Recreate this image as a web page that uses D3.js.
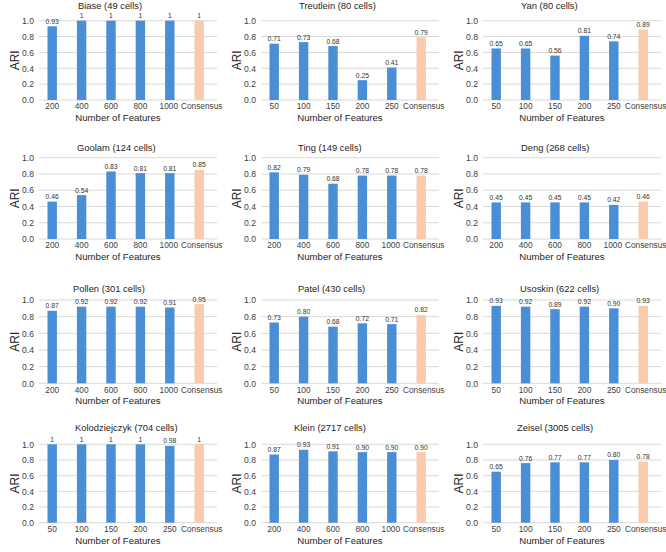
<!DOCTYPE html>
<html><head><meta charset="utf-8">
<script src="https://cdn.jsdelivr.net/npm/d3@7"></script>
<style>body{margin:0;background:#fff}svg{display:block}text{font-family:"Liberation Sans",Arial,sans-serif}</style>
</head><body><svg id="c" width="666" height="552"></svg>
<script>
// ---- data ----
const titles = ["Biase (49 cells)","Treutlein (80 cells)","Yan (80 cells)",
  "Goolam (124 cells)","Ting (149 cells)","Deng (268 cells)",
  "Pollen (301 cells)","Patel (430 cells)","Usoskin (622 cells)",
  "Kolodziejczyk (704 cells)","Klein (2717 cells)","Zeisel (3005 cells)"];
const featuresLarge = ["200","400","600","800","1000"];
const featuresSmall = ["50","100","150","200","250"];
const panelFeatures = [featuresLarge,featuresSmall,featuresSmall,
  featuresLarge,featuresLarge,featuresLarge,
  featuresLarge,featuresSmall,featuresSmall,
  featuresSmall,featuresLarge,featuresSmall];
const biase = [0.93,1,1,1,1];
const treutlein = [0.71,0.73,0.68,0.25,0.41];
const yan = [0.65,0.65,0.56,0.81,0.74];
const goolam = [0.46,0.54,0.83,0.81,0.81];
const ting = [0.82,0.79,0.68,0.78,0.78];
const deng = [0.45,0.45,0.45,0.45,0.42];
const pollen = [0.87,0.92,0.92,0.92,0.91];
const patel = [0.73,0.80,0.68,0.72,0.71];
const usoskin = [0.93,0.92,0.89,0.92,0.90];
const kolodziejczyk = [1,1,1,1,0.98];
const klein = [0.87,0.93,0.91,0.90,0.90];
const zeisel = [0.65,0.76,0.77,0.77,0.80];
const panelValues = [biase,treutlein,yan,goolam,ting,deng,pollen,patel,usoskin,kolodziejczyk,klein,zeisel];
const consensus = [1,0.79,0.89,0.85,0.78,0.46,0.95,0.82,0.93,1,0.90,0.78];
const consensusLabel = "Consensus";
const yTicks = [0,0.2,0.4,0.6,0.8,1.0];
const xTitle = "Number of Features";
const yTitle = "ARI";

// ---- layout ----
const colX = [0,222,444];
const rowTop = [20.7,157.7,300,444.3];     // y of 1.0
const rowBottom = [100,239,383.3,522.7];  // y of 0.0
const titleY = [6,148,289,428];
const titleStart = [78,77,77,77,76,77,73,76,76,75,72,73];
const blue = "#4a8ed6", peach = "#f8cbad", grid = "#d9d9d9";
const FONT = "Liberation Sans, Arial, sans-serif";

const svg = d3.select("#c");
svg.append("rect").attr("width",666).attr("height",552).attr("fill","#fff");

panelValues.forEach((vals,i)=>{
  const r = Math.floor(i/3), c = i%3;
  const g = svg.append("g").attr("transform",`translate(${colX[c]},0)`);
  const cats = panelFeatures[i].concat([consensusLabel]);
  const data = vals.map((v,k)=>({cat:panelFeatures[i][k],v,cons:false}))
    .concat([{cat:consensusLabel,v:consensus[i],cons:true}]);
  const x = d3.scaleBand().domain(cats).range([37.5,213.9]).paddingInner(0.68).paddingOuter(0.34);
  const y = d3.scaleLinear().domain([0,1]).range([rowBottom[r],rowTop[r]]);

  g.selectAll("line.grid").data(yTicks).join("line")
    .attr("x1",39).attr("x2",217)
    .attr("y1",d=>y(d)).attr("y2",d=>y(d))
    .attr("stroke",grid).attr("stroke-width",1);

  const ya = g.append("g").attr("transform","translate(34,0)")
    .call(d3.axisLeft(y).tickValues(yTicks).tickFormat(d3.format(".1f")).tickSize(0).tickPadding(0));
  ya.select(".domain").remove();
  ya.selectAll("text").attr("font-size","8.6px").attr("fill","#404040").attr("font-family",FONT);

  const xa = g.append("g").attr("transform",`translate(0,${rowBottom[r]})`)
    .call(d3.axisBottom(x).tickSize(0).tickPadding(3.5));
  xa.select(".domain").remove();
  xa.selectAll("text").attr("font-size","8.3px").attr("fill","#404040").attr("font-family",FONT)
    .attr("dx",d=>d===consensusLabel?"2.5":(d==="1000"?"-1":"0"));

  g.selectAll("rect.bar").data(data).join("rect")
    .attr("x",d=>x(d.cat)).attr("width",x.bandwidth())
    .attr("y",d=>y(d.v)).attr("height",d=>y(0)-y(d.v))
    .attr("fill",d=>d.cons?peach:blue);

  g.selectAll("text.val").data(data).join("text")
    .attr("x",d=>x(d.cat)+x.bandwidth()/2).attr("y",d=>y(d.v)-2.5)
    .attr("text-anchor","middle").attr("font-size","6.8px").attr("fill","#333")
    .text(d=>d.v===1?"1":d.v.toFixed(2));

  g.append("text").attr("x",titleStart[i]).attr("y",titleY[r]+3.3)
    .attr("font-size","9.4px").attr("fill","#262626").text(titles[i]);
  g.append("text").attr("x",118).attr("y",rowBottom[r]+21)
    .attr("text-anchor","middle").attr("font-size","9.6px").attr("fill","#262626").text(xTitle);
  g.append("text").attr("transform",`translate(19,${(rowTop[r]+rowBottom[r])/2}) rotate(-90)`)
    .attr("text-anchor","middle").attr("font-size","12px").attr("fill","#262626").text(yTitle);
});
</script></body></html>
